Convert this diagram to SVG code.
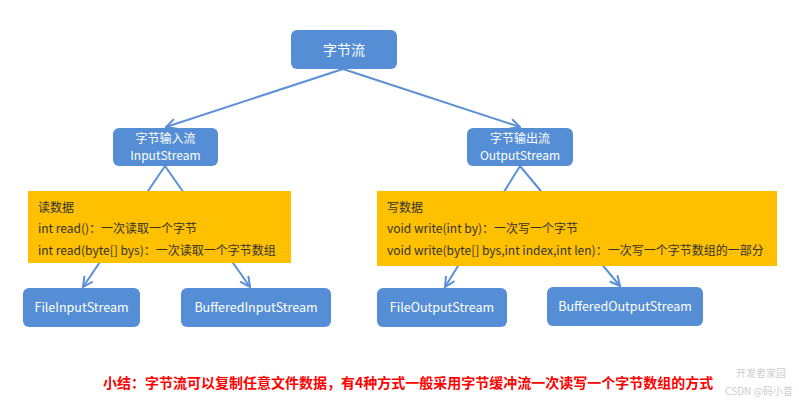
<svg xmlns="http://www.w3.org/2000/svg" width="799" height="403" viewBox="0 0 799 403">
<defs>
<style>
.node{fill:#558ed5;}
.nt{fill:#ffffff;font-family:"Noto Sans CJK SC","Noto Sans",sans-serif;font-size:12.5px;text-anchor:middle;}
.box{fill:#ffc000;}
.bt{fill:#333333;font-family:"Noto Sans CJK SC","Noto Sans",sans-serif;font-size:12px;}
.conn{stroke:#5b8fd6;stroke-width:2;fill:none;}
.note{fill:#ff0000;font-family:"Noto Sans CJK SC","Noto Sans",sans-serif;font-size:14px;font-weight:bold;}
.wm{fill:#b8b8b8;font-family:"Noto Sans CJK SC","Noto Sans",sans-serif;opacity:0.7;text-anchor:end;}
</style>
<marker id="arr" viewBox="0 0 12 12" refX="11" refY="6" markerWidth="12" markerHeight="12" markerUnits="userSpaceOnUse" orient="auto">
<path d="M1,1 L11,6 L1,11" fill="none" stroke="#5b8fd6" stroke-width="2"/>
</marker>
</defs>
<rect width="799" height="403" fill="#ffffff"/>
<g id="connectors">
<line class="conn" x1="343" y1="69" x2="166" y2="127" marker-end="url(#arr)"/>
<line class="conn" x1="343" y1="69" x2="520" y2="127" marker-end="url(#arr)"/>
<line class="conn" x1="165" y1="166" x2="83" y2="287" marker-end="url(#arr)"/>
<line class="conn" x1="165" y1="166" x2="250" y2="287" marker-end="url(#arr)"/>
<line class="conn" x1="520" y1="166" x2="445" y2="287" marker-end="url(#arr)"/>
<line class="conn" x1="520" y1="166" x2="620" y2="286" marker-end="url(#arr)"/>
</g>
<g id="root">
<rect class="node" x="291" y="30" width="106" height="39" rx="6"/>
<text class="nt" x="344" y="55" style="font-size:14px">字节流</text>
</g>
<g id="inputstream">
<rect class="node" x="113" y="128" width="105" height="38" rx="6"/>
<text class="nt" x="165.5" y="143" style="font-size:12px">字节输入流</text>
<text class="nt" x="165.5" y="160" style="font-size:12px">InputStream</text>
</g>
<g id="outputstream">
<rect class="node" x="467" y="128" width="106" height="38" rx="6"/>
<text class="nt" x="520" y="143" style="font-size:12px">字节输出流</text>
<text class="nt" x="520" y="160" style="font-size:12px">OutputStream</text>
</g>
<g id="read-box">
<rect class="box" x="28" y="191" width="263" height="72"/>
<text class="bt" x="38" y="212">读数据</text>
<text class="bt" x="38" y="233">int read()：一次读取一个字节</text>
<text class="bt" x="38" y="255">int read(byte[] bys)：一次读取一个字节数组</text>
</g>
<g id="write-box">
<rect class="box" x="377" y="191" width="400" height="75"/>
<text class="bt" x="387" y="212">写数据</text>
<text class="bt" x="387" y="233">void write(int by)：一次写一个字节</text>
<text class="bt" x="387" y="255">void write(byte[] bys,int index,int len)：一次写一个字节数组的一部分</text>
</g>
<g id="fileinputstream">
<rect class="node" x="23" y="288" width="117" height="39" rx="6"/>
<text class="nt" x="81.5" y="312">FileInputStream</text>
</g>
<g id="bufferedinputstream">
<rect class="node" x="181" y="288" width="150" height="39" rx="6"/>
<text class="nt" x="256" y="312">BufferedInputStream</text>
</g>
<g id="fileoutputstream">
<rect class="node" x="377" y="288" width="130" height="39" rx="6"/>
<text class="nt" x="442" y="312">FileOutputStream</text>
</g>
<g id="bufferedoutputstream">
<rect class="node" x="547" y="287" width="156" height="39" rx="6"/>
<text class="nt" x="625" y="311">BufferedOutputStream</text>
</g>
<g id="summary">
<text class="note" x="103" y="388">小结：字节流可以复制任意文件数据，有4种方式一般采用字节缓冲流一次读写一个字节数组的方式</text>
</g>
<g id="watermark">
<text class="wm" x="786" y="377" style="font-size:10px">开发者家园</text>
<text class="wm" x="793" y="395" style="font-size:10px">CSDN @码小昔</text>
</g>
</svg>
